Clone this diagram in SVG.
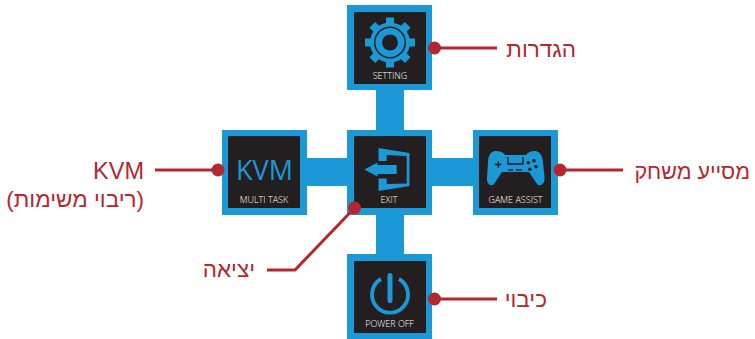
<svg xmlns="http://www.w3.org/2000/svg" width="755" height="339" viewBox="0 0 755 339">
<style>
.tile{fill:#1b98d6}
.inner{fill:#231f20}
.bar{fill:#1b98d6}
.cap{font-family:"Open Sans","Liberation Sans",sans-serif;font-size:9px;font-weight:300;fill:#ffffff;text-anchor:middle}
.he{font-family:"Liberation Sans",Arial,sans-serif;font-size:22.500px;fill:#b5272e;direction:rtl;text-anchor:start}
.ln{fill:none;stroke:#b5272e;stroke-width:3}
.dot{fill:#b5272e}
.ic{fill:#1b98d6}
</style>
<defs>
<rect id="tooth" x="386" y="17.500" width="8" height="10" fill="#1b98d6"/>
</defs>
<g id="bars">
<rect class="bar" x="376" y="88" width="28" height="44"/>
<rect class="bar" x="376" y="213" width="28" height="43"/>
<rect class="bar" x="305" y="158" width="44" height="28"/>
<rect class="bar" x="430" y="158" width="45" height="28"/>
</g>
<g id="setting">
<rect class="tile" x="347" y="5" width="85" height="85"/>
<rect class="inner" x="354" y="12" width="72" height="72"/>
<g>
<use href="#tooth" transform="rotate(0 390 42.500)"/>
<use href="#tooth" transform="rotate(45 390 42.500)"/>
<use href="#tooth" transform="rotate(90 390 42.500)"/>
<use href="#tooth" transform="rotate(135 390 42.500)"/>
<use href="#tooth" transform="rotate(180 390 42.500)"/>
<use href="#tooth" transform="rotate(225 390 42.500)"/>
<use href="#tooth" transform="rotate(270 390 42.500)"/>
<use href="#tooth" transform="rotate(315 390 42.500)"/>
</g>
<circle class="ic" cx="390" cy="42.500" r="20"/>
<circle class="inner" cx="390" cy="42.500" r="16"/>
<circle class="ic" cx="390" cy="42.500" r="14.500"/>
<circle class="inner" cx="390" cy="42.500" r="8"/>
<text class="cap" x="390" y="79">SETTING</text>
</g>
<g id="kvm">
<rect class="tile" x="222" y="130" width="85" height="85"/>
<rect class="inner" x="228" y="136" width="72" height="72"/>
<text x="264.500" y="180" font-family="'Open Sans','Liberation Sans',sans-serif" font-size="27" fill="#1b98d6" text-anchor="middle">KVM</text>
<text class="cap" x="264" y="203">MULTI TASK</text>
</g>
<g id="exit">
<rect class="tile" x="347" y="130" width="85" height="85"/>
<rect class="inner" x="354" y="136" width="72" height="72"/>
<polygon class="ic" points="378.500,148 409.500,153 409.500,186 378.500,191 378.500,178.500 386.700,178.500 386.700,184 406.700,183.500 406.700,156 386.700,155 386.700,161 378.500,161"/>
<polygon class="ic" points="364.300,169.500 377.500,162.500 377.500,165 396.700,165 396.700,174 377.500,174 377.500,176.500"/>
<text class="cap" x="389" y="203">EXIT</text>
</g>
<g id="game-assist">
<rect class="tile" x="473" y="130" width="85" height="85"/>
<rect class="inner" x="479" y="136" width="72" height="72"/>
<path class="ic" d="M496 151C490 151 488.500 156 488 162L487 178C486.500 184 491 187 494 184L502 172H529L537 184C540 187 545 184 544.500 178L543 162C542.500 156 540 151 535 151C531 151 528 152 526 155H505C503 152 500 151 496 151Z"/>
<path d="M508 157V164H523V157" fill="none" stroke="#231f20" stroke-width="1.500"/>
<path d="M495 164.500H501.500M498.300 161.300V167.700M508 170H513M516 170H522" fill="none" stroke="#231f20" stroke-width="1.500"/>
<circle class="inner" cx="528.300" cy="162.700" r="1.800"/>
<circle class="inner" cx="534" cy="160.700" r="1.800"/>
<circle class="inner" cx="536" cy="166.700" r="1.800"/>
<circle class="inner" cx="530" cy="169.300" r="1.800"/>
<text class="cap" x="515.500" y="203">GAME ASSIST</text>
</g>
<g id="power-off">
<rect class="tile" x="347" y="254" width="85" height="85"/>
<rect class="inner" x="354" y="261" width="72" height="72"/>
<path d="M381 279A18 18 0 1 0 399 279" fill="none" stroke="#1b98d6" stroke-width="3.800"/>
<path d="M390 275.500V300.500" fill="none" stroke="#1b98d6" stroke-width="5" stroke-linecap="round"/>
<text class="cap" x="389.500" y="327">POWER OFF</text>
</g>
<g id="connectors">
<path class="ln" d="M434.500 48H497"/>
<circle class="dot" cx="434.500" cy="48" r="6.500"/>
<path class="ln" d="M218 170H155"/>
<circle class="dot" cx="218" cy="170" r="6.500"/>
<path class="ln" d="M560 170H623"/>
<circle class="dot" cx="560" cy="170" r="6.500"/>
<path class="ln" d="M354.500 208L295 270H267"/>
<circle class="dot" cx="354.500" cy="208" r="6.500"/>
<path class="ln" d="M434.500 299H497"/>
<circle class="dot" cx="434.500" cy="299" r="6.500"/>
</g>
<g id="labels">
<text class="he" x="576" y="57">הגדרות</text>
<text class="he" x="750" y="179" style="font-size:21.500px">מסייע משחק</text>
<text class="he" x="144" y="179" style="direction:ltr;text-anchor:end;font-size:23.500px">KVM</text>
<text class="he" x="144" y="207">(ריבוי משימות)</text>
<text class="he" x="255" y="277">יציאה</text>
<text class="he" x="547" y="307">כיבוי</text>
</g>
</svg>
